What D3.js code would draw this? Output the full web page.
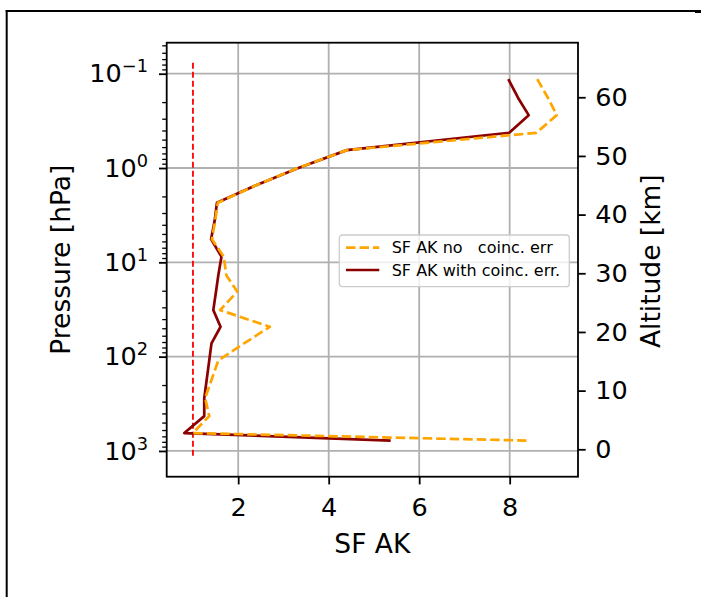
<!DOCTYPE html>
<html><head><meta charset="utf-8">
<script src="https://cdn.jsdelivr.net/npm/d3@7"></script>
<style>body{margin:0;background:#fff} svg text{font-family:"DejaVu Sans",sans-serif}</style>
</head><body><svg id="c" width="701" height="597"></svg>
<script>
// ---- data ----
const pressure = [0.114, 0.182, 0.275, 0.423, 0.646, 1.0, 1.51, 2.34, 3.63, 5.68, 8.71, 13.8, 20.4, 32.1, 48.2, 72.4, 110, 275, 427, 646, 776];
const sfWith   = [7.97, 8.19, 8.42, 7.99, 4.40, 3.33, 2.41, 1.53, 1.48, 1.40, 1.63, 1.56, 1.51, 1.45, 1.61, 1.41, 1.36, 1.25, 1.25, 0.81, 5.37];
const sfNo     = [8.61, 8.85, 9.04, 8.59, 4.40, 3.32, 2.41, 1.55, 1.49, 1.42, 1.68, 1.74, 1.98, 1.60, 2.70, 2.13, 1.56, 1.27, 1.36, 1.00, 8.37];
const refX = [1, 1];
const refP = [0.0763, 1186];
const xTicks = [2, 4, 6, 8];
const pTicks = [0.1, 1, 10, 100, 1000];
const pTickExp = ["\u22121", "0", "1", "2", "3"];
const altTicks = [0, 10, 20, 30, 40, 50, 60];
const seriesNames = ["SF AK no   coinc. err", "SF AK with coinc. err."];
const seriesColors = ["orange", "darkred"];
const seriesDash = ["9.5,4", null];

// ---- layout ----
const svg = d3.select("#c");
const m = {l: 166.7, r: 578, t: 42.7, b: 476.7};
const x = d3.scaleLinear().domain([0.42, 9.51]).range([m.l, m.r]);
const y = d3.scaleLog().domain([0.0469, 1875]).range([m.t, m.b]);
const yAlt = d3.scaleLinear().domain([-4.67, 69.3]).range([m.b, m.t]);
const gridCol = "#b0b0b0";

// outer frame
svg.append("line").attr("x1", 5.7).attr("x2", 701).attr("y1", 11).attr("y2", 11).attr("stroke", "#000").attr("stroke-width", 2);
svg.append("line").attr("x1", 6.7).attr("x2", 6.7).attr("y1", 10).attr("y2", 597).attr("stroke", "#000").attr("stroke-width", 2);
svg.append("line").attr("x1", 695).attr("x2", 701).attr("y1", 11.5).attr("y2", 11.5).attr("stroke", "#000").attr("stroke-width", 3);

// grid
const grid = svg.append("g");
grid.selectAll("line.gx").data(xTicks).join("line").attr("class", "gx")
  .attr("x1", d => x(d)).attr("x2", d => x(d)).attr("y1", m.t).attr("y2", m.b)
  .attr("stroke", gridCol).attr("stroke-width", 1.8);
grid.selectAll("line.gy").data(pTicks).join("line").attr("class", "gy")
  .attr("y1", d => y(d)).attr("y2", d => y(d)).attr("x1", m.l).attr("x2", m.r)
  .attr("stroke", gridCol).attr("stroke-width", 1.8);

// lines
const line = d3.line().x(d => x(d[0])).y(d => y(d[1]));
svg.append("path").datum(d3.zip(refX, refP)).attr("d", line)
  .attr("fill", "none").attr("stroke", "red").attr("stroke-width", 1.8).attr("stroke-dasharray", "6,3");
const series = [sfNo, sfWith];
[1, 0].forEach(i => {
  svg.append("path").datum(d3.zip(series[i], pressure)).attr("d", line)
    .attr("fill", "none").attr("stroke", seriesColors[i]).attr("stroke-width", 2.7)
    .attr("stroke-dasharray", seriesDash[i]).attr("stroke-linejoin", "round");
});

// axes
function styleAxis(g, fs) {
  g.select(".domain").remove();
  g.selectAll(".tick line").attr("stroke", "#000").attr("stroke-width", 1.8);
  g.selectAll(".tick text").attr("fill", "#000").attr("font-size", fs).attr("font-family", "DejaVu Sans");
}
const gB = svg.append("g").attr("transform", `translate(0,${m.b})`)
  .call(d3.axisBottom(x).tickValues(xTicks).tickSize(7.7).tickPadding(13.5).tickFormat(d3.format("d")));
styleAxis(gB, 25.5);

const gLm = svg.append("g").attr("transform", `translate(${m.l},0)`)
  .call(d3.axisLeft(y).tickValues(y.ticks().filter(v => Math.abs(Math.log10(v) - Math.round(Math.log10(v))) > 1e-6)).tickSize(4.5).tickFormat(""));
gLm.select(".domain").remove();
gLm.selectAll(".tick line").attr("stroke", "#000").attr("stroke-width", 1.3);

const gL = svg.append("g").attr("transform", `translate(${m.l},0)`)
  .call(d3.axisLeft(y).tickValues(pTicks).tickSize(7.7).tickPadding(11).tickFormat(() => "10"));
styleAxis(gL, 25.5);
gL.selectAll(".tick text").each(function(d, i) {
  d3.select(this).append("tspan").attr("dy", -10).attr("font-size", 17.8).text(pTickExp[i]);
});

const gR = svg.append("g").attr("transform", `translate(${m.r},0)`)
  .call(d3.axisRight(yAlt).tickValues(altTicks).tickSize(7.7).tickPadding(9.5).tickFormat(d3.format("d")));
styleAxis(gR, 25.5);

// spines
svg.append("rect").attr("x", m.l).attr("y", m.t).attr("width", m.r - m.l).attr("height", m.b - m.t)
  .attr("fill", "none").attr("stroke", "#000").attr("stroke-width", 1.8);

// axis labels
svg.append("text").attr("x", (m.l + m.r) / 2).attr("y", 553.3).attr("text-anchor", "middle")
  .attr("font-size", 26.5).attr("fill", "#000").text("SF AK");
svg.append("text").attr("transform", `translate(69.5,${(m.t + m.b) / 2}) rotate(-90)`).attr("text-anchor", "middle")
  .attr("font-size", 26.5).attr("fill", "#000").text("Pressure [hPa]");
svg.append("text").attr("transform", `translate(659.5,${(m.t + m.b) / 2 + 1.5}) rotate(-90)`).attr("text-anchor", "middle")
  .attr("font-size", 26.5).attr("fill", "#000").text("Altitude [km]");

// legend
const leg = svg.append("g").attr("transform", "translate(339.3,235)");
leg.append("rect").attr("width", 230).attr("height", 51.7).attr("rx", 3)
  .attr("fill", "#fff").attr("fill-opacity", 0.8).attr("stroke", "#cccccc").attr("stroke-width", 1.3);
seriesNames.forEach((n, i) => {
  const cy = 12.7 + i * 22.3;
  leg.append("line").attr("x1", 6.7).attr("x2", 40).attr("y1", cy).attr("y2", cy)
    .attr("stroke", seriesColors[i]).attr("stroke-width", 2.7).attr("stroke-dasharray", seriesDash[i]);
  leg.append("text").attr("x", 52.4).attr("y", cy).attr("dy", "0.35em").attr("font-size", 16)
    .attr("fill", "#000").style("white-space", "pre").text(n);
});
</script></body></html>
